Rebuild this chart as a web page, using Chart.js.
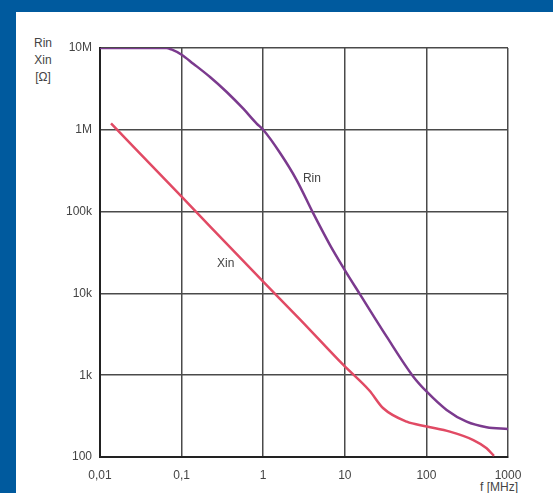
<!DOCTYPE html>
<html>
<head>
<meta charset="utf-8">
<script src="https://cdn.jsdelivr.net/npm/chart.js@4"></script>
<style>
  html, body { margin:0; padding:0; }
  body { width:553px; height:493px; background:#005a9e; position:relative; overflow:hidden; font-family:"Liberation Sans", Arial, sans-serif; }
  #panel { position:absolute; left:16px; top:12px; right:0; bottom:0; background:#fff; }
  #wrap { position:absolute; left:0; top:0; width:553px; height:493px; }
  .ytitle { position:absolute; left:24px; width:38px; text-align:center; font-size:12px; color:#444; line-height:17px; top:35px; }
  .xtitle { position:absolute; left:480px; top:480px; font-size:12px; color:#444; white-space:nowrap; }
</style>
</head>
<body>
<div id="panel"></div>
<div class="ytitle">Rin<br>Xin<br>[Ω]</div>
<div class="xtitle">f [MHz]</div>
<div id="wrap"><canvas id="c" width="553" height="493"></canvas></div>
<script>
// frequency in MHz, impedance in ohm
const rinFreq = [0.01, 0.065, 0.075, 0.1, 0.139, 0.223, 0.357, 0.57, 0.832, 1, 1.61, 2.57, 4.11, 6.59, 10, 15.3, 32.6, 69.2, 101, 177, 311, 547, 1000];
const rinValues = [1e7, 1e7, 9.6e6, 8.28e6, 6.43e6, 4.42e6, 2.9e6, 1.81e6, 1.19e6, 1e6, 5.2e5, 2.43e5, 9.5e4, 3.9e4, 1.93e4, 9800, 2960, 960, 628, 376, 270, 231, 220];
const xinFreq = [0.01365, 0.1, 1, 2.82, 9.6, 20, 29.6, 57.4, 101, 194, 376, 547, 673];
const xinValues = [1.2e6, 1.52e5, 1.39e4, 4820, 1333, 650, 394, 270, 236, 204, 161, 128, 103];
const xTickValues = [0.01, 0.1, 1, 10, 100, 1000];
const xTickLabels = ['0,01', '0,1', '1', '10', '100', '1000'];
const yTickValues = [100, 1e3, 1e4, 1e5, 1e6, 1e7];
const yTickLabels = ['100', '1k', '10k', '100k', '1M', '10M'];

const toPts = (xs, ys) => xs.map((x, i) => ({ x: x, y: ys[i] }));
const tickFont = { family: '"Liberation Sans", Arial, sans-serif', size: 12 };

const curveLabels = {
  id: 'curveLabels',
  afterDatasetsDraw(chart) {
    const ctx = chart.ctx, x = chart.scales.x, y = chart.scales.y;
    ctx.save();
    ctx.font = '12px "Liberation Sans", Arial, sans-serif';
    ctx.fillStyle = '#444';
    ctx.textBaseline = 'middle';
    ctx.fillText('Rin', x.getPixelForValue(3.07), y.getPixelForValue(2.5e5));
    ctx.fillText('Xin', x.getPixelForValue(0.272), y.getPixelForValue(2.29e4));
    ctx.restore();
  }
};

new Chart(document.getElementById('c').getContext('2d'), {
  type: 'scatter',
  data: {
    datasets: [
      { label: 'Rin', data: toPts(rinFreq, rinValues), showLine: true, borderColor: '#7b3a8e', borderWidth: 2.5, pointRadius: 0, cubicInterpolationMode: 'monotone' },
      { label: 'Xin', data: toPts(xinFreq, xinValues), showLine: true, borderColor: '#e14a64', borderWidth: 2.5, pointRadius: 0, cubicInterpolationMode: 'monotone' }
    ]
  },
  options: {
    responsive: false,
    animation: false,
    layout: { padding: { top: 48, right: 45, left: 0, bottom: 0 } },
    plugins: { legend: { display: false }, tooltip: { enabled: false } },
    scales: {
      x: {
        type: 'logarithmic', min: 0.01, max: 1000,
        afterBuildTicks: s => { s.ticks = xTickValues.map(v => ({ value: v })); },
        afterFit: s => { s.height = 36; },
        ticks: { color: '#444', font: tickFont, padding: 11, maxRotation: 0, autoSkip: false,
                 callback: v => xTickLabels[xTickValues.indexOf(v)] },
        grid: { color: '#4a4a4a', lineWidth: 1.5, drawTicks: false },
        border: { color: '#222', width: 2 }
      },
      y: {
        type: 'logarithmic', min: 100, max: 1e7,
        afterBuildTicks: s => { s.ticks = yTickValues.map(v => ({ value: v })); },
        afterFit: s => { s.width = 100; },
        ticks: { color: '#444', font: tickFont, padding: 8, autoSkip: false,
                 callback: v => yTickLabels[yTickValues.indexOf(v)] },
        grid: { color: '#4a4a4a', lineWidth: 1.5, drawTicks: false },
        border: { color: '#222', width: 2 }
      }
    }
  },
  plugins: [curveLabels]
});
</script>
</body>
</html>
